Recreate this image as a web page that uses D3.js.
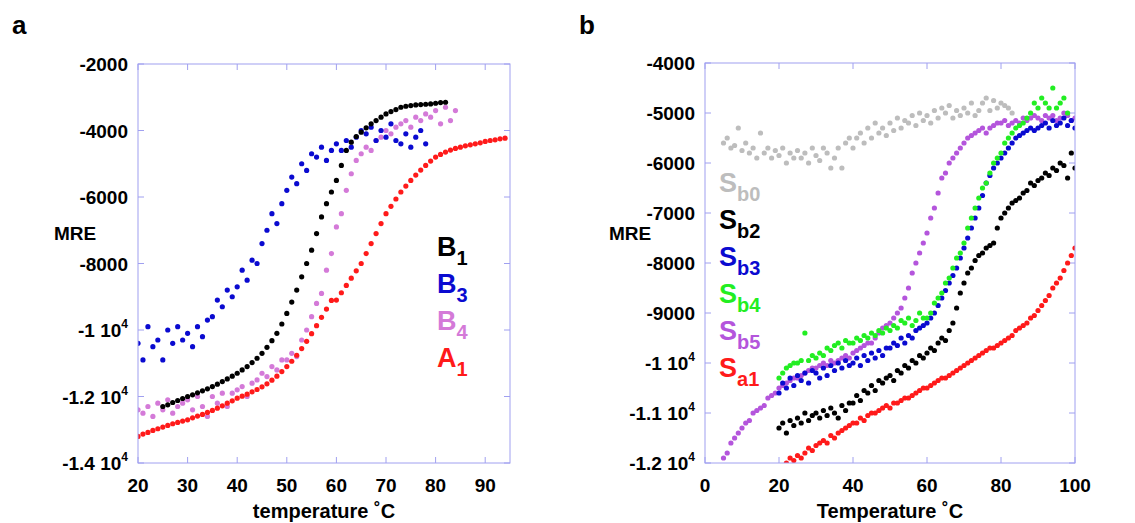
<!DOCTYPE html>
<html>
<head>
<meta charset="utf-8">
<script src="https://cdn.jsdelivr.net/npm/d3@7"></script>
<style>
  body { margin: 0; background: #fff; }
  text { font-family: Arial, "Liberation Sans", sans-serif; font-weight: bold; }
</style>
</head>
<body>
<div id="chart"></div>
<script>
// panel a: series start temperature, y values per 1 degree
const a_A1 = [-13200,-13130,-13080,-13020,-12970,-12920,-12870,-12820,-12780,-12740,
  -12700,-12640,-12590,-12540,-12480,-12420,-12350,-12280,-12200,-12130,
  -12050,-11990,-11930,-11860,-11790,-11710,-11620,-11510,-11390,-11250,
  -11100,-10940,-10760,-10560,-10340,-10110,-9870,-9620,-9370,-9110,
  -9100,-8880,-8660,-8440,-8220,-8000,-7700,-7400,-7100,-6800,
  -6500,-6280,-6060,-5850,-5670,-5500,-5340,-5190,-5050,-4920,
  -4800,-4720,-4650,-4590,-4540,-4500,-4460,-4430,-4400,-4370,
  -4330,-4300,-4280,-4250,-4230];
const a_B1 = [-12300,-12250,-12180,-12120,-12060,-12000,-11950,-11890,-11830,-11770,
  -11700,-11630,-11550,-11470,-11390,-11300,-11200,-11100,-10980,-10850,
  -10700,-10520,-10320,-10100,-9820,-9500,-9160,-8800,-8400,-8000,
  -7600,-7100,-6600,-6200,-5850,-5500,-5050,-4600,-4350,-4180,
  -4050,-3920,-3800,-3700,-3600,-3500,-3430,-3370,-3300,-3270,
  -3250,-3230,-3220,-3210,-3200,-3180,-3160,-3150];
const a_B3 = [-10400,-10900,-9900,-10500,-10300,-10900,-10000,-10400,-9900,-10300,
  -10100,-10500,-9900,-10200,-9700,-9600,-9100,-9300,-8800,-9000,
  -8700,-8200,-8500,-7900,-8000,-7400,-7000,-6500,-6800,-6200,
  -5800,-5400,-5600,-5000,-5200,-4700,-4800,-4500,-4900,-4600,
  -4400,-4600,-4300,-4500,-4200,-4000,-4100,-3900,-4300,-4000,
  -4200,-3800,-4300,-4400,-4100,-4500,-4200,-4000,-4400];
const a_B4 = [-12400,-12500,-12300,-12600,-12200,-12400,-12100,-12500,-12300,-12200,
  -12100,-12400,-12000,-12300,-12600,-12000,-12200,-11900,-12300,-11900,
  -11800,-11700,-12000,-11600,-11500,-11300,-11400,-11100,-11200,-10900,
  -10900,-10700,-10800,-10300,-10000,-9600,-9200,-8900,-8200,-7700,
  -6900,-6500,-5800,-5300,-4900,-4700,-4500,-4600,-4300,-4200,
  -4000,-4100,-3900,-3800,-3700,-3900,-3600,-3700,-3500,-3600,
  -3400,-3800,-3300,-3700,-3400];

// panel b
const b_Sb0 = [-5600,-5500,-5700,-5650,-5300,-5750,-5600,-5800,-5700,-5900,
  -5400,-5800,-5700,-5900,-5750,-5850,-5700,-6000,-5800,-5900,
  -5750,-5900,-5800,-6000,-5700,-5850,-5950,-5700,-5800,-6100,
  -5900,-5700,-6100,-5600,-5500,-5700,-5500,-5400,-5600,-5300,
  -5500,-5200,-5400,-5300,-5450,-5200,-5350,-5100,-5300,-5150,
  -5200,-5050,-5250,-5000,-5150,-5050,-5200,-4950,-5100,-4900,
  -5000,-4850,-5100,-4950,-5050,-4900,-5000,-4800,-5050,-4950,
  -4800,-4700,-4950,-4750,-4900,-4800,-4850,-4900,-5000];
const b_Sb2 = [-11300,-11200,-11400,-11150,-11250,-11100,-11200,-11000,-11150,-11050,
  -11000,-11100,-10950,-11050,-10900,-11000,-11100,-10850,-10950,-10800,
  -10800,-10650,-10750,-10550,-10600,-10450,-10550,-10350,-10400,-10300,
  -10250,-10350,-10150,-10200,-10050,-10100,-9950,-10000,-9850,-9900,
  -9800,-9700,-9750,-9600,-9500,-9550,-9350,-9200,-8900,-8600,
  -8400,-8200,-8100,-7950,-7850,-7800,-7700,-7650,-7600,-7300,
  -7100,-7000,-6900,-6800,-6750,-6700,-6600,-6550,-6400,-6450,
  -6350,-6300,-6200,-6250,-6100,-6150,-6000,-6050,-6300,-5800,-6100];
const b_Sb3 = [-10600,-10400,-10500,-10300,-10450,-10250,-10350,-10200,-10400,-10150,
  -10200,-10300,-10100,-10250,-10050,-10150,-10000,-10100,-9950,-10050,
  -10000,-9900,-10050,-9850,-9950,-9800,-9900,-9750,-9850,-9700,
  -9700,-9600,-9650,-9500,-9600,-9450,-9500,-9350,-9300,-9250,
  -9200,-9100,-9000,-8850,-8700,-8550,-8400,-8250,-8100,-7900,
  -7700,-7500,-7300,-7100,-6900,-6650,-6400,-6250,-6100,-6000,
  -5900,-5800,-5700,-5600,-5500,-5450,-5400,-5350,-5300,-5350,
  -5300,-5250,-5200,-5300,-5150,-5250,-5200,-5100,-5250,-5150,-5300];
const b_Sb4 = [-10300,-10200,-10100,-10050,-10000,-10000,-9950,-9400,-9950,-9850,
  -9900,-9800,-9850,-9700,-9750,-9650,-9600,-9700,-9550,-9600,
  -9600,-9500,-9550,-9450,-9500,-9400,-9450,-9350,-9400,-9300,
  -9350,-9250,-9300,-9150,-9200,-9100,-9250,-9150,-9000,-9100,
  -9100,-9000,-8800,-8700,-8600,-8400,-8300,-8100,-7900,-7800,
  -7600,-7300,-7100,-6900,-6700,-6500,-6400,-6200,-6000,-5900,
  -5800,-5600,-5500,-5400,-5300,-5250,-5200,-5100,-5000,-4800,
  -4900,-4700,-4800,-4900,-4500,-4900,-4800,-4700,-5000];
const b_Sb5 = [-11900,-11800,-11600,-11500,-11400,-11300,-11200,-11150,-11000,-10950,
  -10900,-10850,-10700,-10650,-10600,-10500,-10450,-10400,-10350,-10300,
  -10300,-10250,-10200,-10150,-10100,-10100,-10050,-10000,-10050,-9950,
  -10000,-9950,-9900,-9850,-9900,-9800,-9750,-9700,-9650,-9600,
  -9600,-9500,-9400,-9300,-9250,-9200,-9100,-9000,-8900,-8700,
  -8500,-8200,-8000,-7800,-7600,-7400,-7100,-6900,-6600,-6300,
  -6200,-6000,-5900,-5800,-5700,-5600,-5500,-5450,-5400,-5350,
  -5300,-5400,-5300,-5250,-5200,-5200,-5150,-5250,-5200,-5150,
  -5200,-5100,-5150,-5100,-5050,-5100,-5150,-5050,-5100,-5050,-5150,-5100,-5000,-5050,-5150,-5100];
const b_Sa1 = [-12000,-11900,-11950,-11850,-11900,-11800,-11700,-11750,-11650,-11600,
  -11550,-11600,-11450,-11500,-11400,-11350,-11300,-11250,-11200,-11200,
  -11100,-11150,-11050,-11000,-11000,-10950,-10900,-10850,-10900,-10800,
  -10800,-10750,-10700,-10700,-10650,-10600,-10550,-10500,-10500,-10450,
  -10400,-10350,-10300,-10300,-10250,-10200,-10150,-10100,-10050,-10000,
  -9950,-9900,-9850,-9800,-9750,-9700,-9700,-9650,-9600,-9550,
  -9500,-9450,-9350,-9300,-9250,-9200,-9100,-9050,-8950,-8850,
  -8750,-8650,-8500,-8400,-8300,-8150,-8000,-7850,-7700];

const panelA = {
  letter: "a", box: [138, 64, 510, 463], xDomain: [20, 95], yDomain: [-14000, -2000],
  xTicks: [20, 30, 40, 50, 60, 70, 80, 90], yTicks: d3.range(-14000, -1999, 2000),
  xLabel: "temperature \u02DAC", mreX: 75,
  series: [
    { name: "B", sub: "4", color: "#d47ad8", start: 20, ys: a_B4 },
    { name: "B", sub: "3", color: "#0a0ad0", start: 20, ys: a_B3 },
    { name: "A", sub: "1", color: "#ff1a1a", start: 20, ys: a_A1 },
    { name: "B", sub: "1", color: "#000000", start: 25, ys: a_B1 }
  ],
  legend: { x: 437, y0: 256, dy: 37, order: [3, 1, 0, 2] }
};
const panelB = {
  letter: "b", box: [705, 63, 1075, 463], xDomain: [0, 100], yDomain: [-12000, -4000],
  xTicks: [0, 20, 40, 60, 80, 100], yTicks: d3.range(-12000, -3999, 1000),
  xLabel: "Temperature \u02DAC", mreX: 630,
  series: [
    { name: "S", sub: "b0", color: "#bdbdbd", start: 5, ys: b_Sb0 },
    { name: "S", sub: "b2", color: "#000000", start: 20, ys: b_Sb2 },
    { name: "S", sub: "a1", color: "#ff1a1a", start: 22, ys: b_Sa1 },
    { name: "S", sub: "b5", color: "#b455dc", start: 5, ys: b_Sb5 },
    { name: "S", sub: "b3", color: "#0a0ad0", start: 20, ys: b_Sb3 },
    { name: "S", sub: "b4", color: "#22ee22", start: 20, ys: b_Sb4 }
  ],
  legend: { x: 719, y0: 192, dy: 37, order: [0, 1, 4, 5, 3, 2] }
};

const svg = d3.select("#chart").append("svg").attr("width", 1135).attr("height", 523);

function fmt(v) {
  if (v <= -10000) return { base: (v / 10000).toString() + " 10", exp: "4" };
  return { base: v.toString(), exp: null };
}

function drawPanel(p) {
  const [x0, y0, x1, y1] = p.box;
  const x = d3.scaleLinear().domain(p.xDomain).range([x0, x1]);
  const y = d3.scaleLinear().domain(p.yDomain).range([y1, y0]);
  const g = svg.append("g");
  const frame = "#a0a0f0";

  g.append("text").attr("x", x0 - 126).attr("y", 34).attr("font-size", 26).text(p.letter);

  // ticks on all four sides, pointing inward
  p.xTicks.forEach(t => {
    g.append("line").attr("x1", x(t)).attr("x2", x(t)).attr("y1", y1).attr("y2", y1 - 6).attr("stroke", frame);
    g.append("line").attr("x1", x(t)).attr("x2", x(t)).attr("y1", y0).attr("y2", y0 + 6).attr("stroke", frame);
    g.append("text").attr("x", x(t)).attr("y", y1 + 29).attr("text-anchor", "middle").attr("font-size", 19).text(t);
  });
  p.yTicks.forEach(t => {
    g.append("line").attr("x1", x0).attr("x2", x0 + 6).attr("y1", y(t)).attr("y2", y(t)).attr("stroke", frame);
    g.append("line").attr("x1", x1).attr("x2", x1 - 6).attr("y1", y(t)).attr("y2", y(t)).attr("stroke", frame);
    const f = fmt(t);
    const tx = g.append("text").attr("x", x0 - 10).attr("y", y(t) + 7).attr("text-anchor", "end").attr("font-size", 19);
    tx.append("tspan").text(f.base);
    if (f.exp) tx.append("tspan").attr("dy", -9).attr("font-size", 12).text(f.exp);
  });

  const clip = "clip" + p.letter;
  svg.append("clipPath").attr("id", clip).append("rect")
    .attr("x", x0).attr("y", y0).attr("width", x1 - x0).attr("height", y1 - y0);

  p.series.forEach(s => {
    g.append("g").attr("clip-path", `url(#${clip})`)
      .selectAll("circle").data(s.ys).join("circle")
      .attr("cx", (d, i) => x(s.start + i))
      .attr("cy", d => y(d))
      .attr("r", 2.6)
      .attr("fill", s.color);
  });

  g.append("rect").attr("x", x0).attr("y", y0).attr("width", x1 - x0).attr("height", y1 - y0)
    .attr("fill", "none").attr("stroke", frame);

  g.append("text").attr("x", (x0 + x1) / 2).attr("y", y1 + 55).attr("text-anchor", "middle")
    .attr("font-size", 20).text(p.xLabel);
  g.append("text").attr("x", p.mreX).attr("y", 240).attr("text-anchor", "middle")
    .attr("font-size", 19).text("MRE");

  p.legend.order.forEach((idx, k) => {
    const s = p.series[idx];
    const t = g.append("text").attr("x", p.legend.x).attr("y", p.legend.y0 + k * p.legend.dy)
      .attr("font-size", 27).attr("fill", s.color);
    t.append("tspan").text(s.name);
    t.append("tspan").attr("dy", 9).attr("font-size", 20).text(s.sub);
  });
}

drawPanel(panelA);
drawPanel(panelB);
</script>
</body>
</html>
